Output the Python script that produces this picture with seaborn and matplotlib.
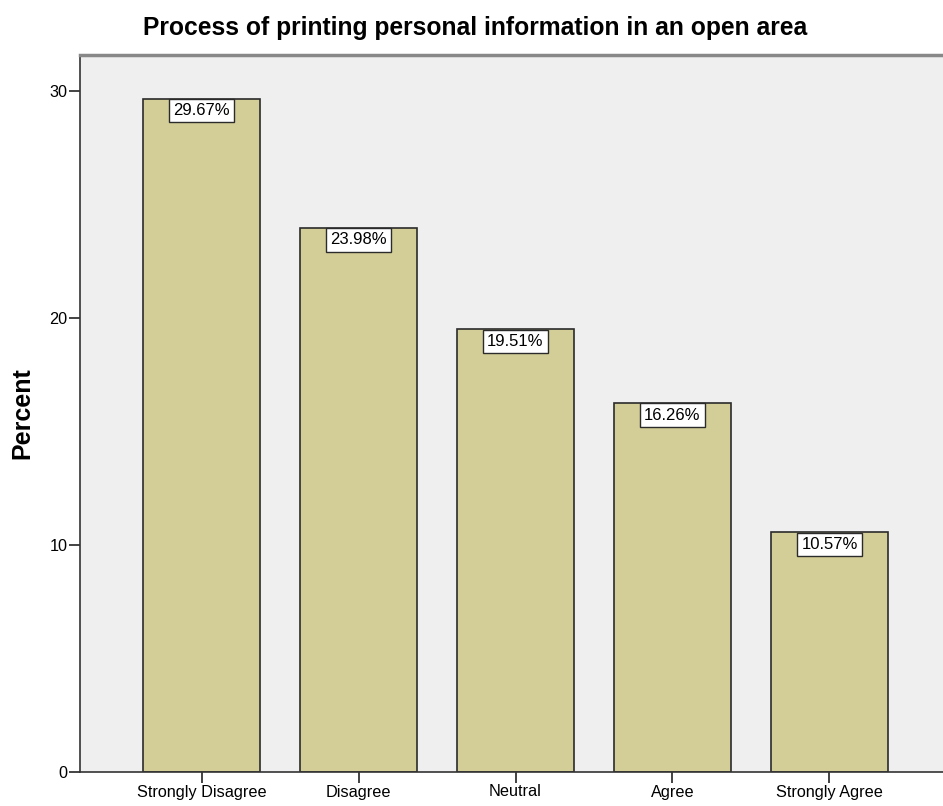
import matplotlib
matplotlib.use("Agg")
import matplotlib.pyplot as plt
import seaborn as sns
import pandas as pd

categories = ["Strongly Disagree", "Disagree", "Neutral", "Agree", "Strongly Agree"]
percents = [29.67, 23.98, 19.51, 16.26, 10.57]
labels = ["29.67%", "23.98%", "19.51%", "16.26%", "10.57%"]
yticks = [0, 10, 20, 30]

sns.set_style("white")
plt.rcParams["font.family"] = ["Liberation Sans", "DejaVu Sans"]
plt.rcParams["text.color"] = "black"

df = pd.DataFrame({"category": categories, "percent": percents})

fig = plt.figure(figsize=(9.43, 8.06), dpi=100)
ax = fig.add_axes([80/943, 34/806, 871/943, 717/806])
ax.set_facecolor("#EFEFEF")

sns.barplot(data=df, x="category", y="percent", order=categories, color="#D3CE97",
            saturation=1, width=0.745, edgecolor="#2b2b2b", linewidth=1.2, ax=ax)

for i, (v, lab) in enumerate(zip(percents, labels)):
    ax.text(i, v - 0.2, lab, ha="center", va="top", fontsize=12, color="black",
            bbox=dict(boxstyle="square,pad=0.25", facecolor="white", edgecolor="#2b2b2b", linewidth=1))

ax.set_xlim(-0.774, 4.774)
ax.set_ylim(0, 31.6)
ax.set_yticks(yticks)
ax.set_xlabel("")
ax.set_ylabel("Percent", fontsize=18, fontweight="bold", labelpad=11, color="black")
ax.tick_params(axis="both", direction="out", length=8, width=1.2, colors="#222222", labelsize=11.7, pad=1, left=True, bottom=True)
ax.tick_params(axis="x", labelcolor="black")
ax.tick_params(axis="y", labelcolor="black")

for s in ["left", "bottom"]:
    ax.spines[s].set_color("#333333")
    ax.spines[s].set_linewidth(1.2)
ax.spines["top"].set_color("#888888")
ax.spines["top"].set_linewidth(2.5)
ax.spines["right"].set_visible(False)

fig.suptitle("Process of printing personal information in an open area", x=0.504, y=1 - 28/806,
             va="center", fontsize=17.7, fontweight="bold", color="black")

fig.savefig("out.png", dpi=100, facecolor="white")
